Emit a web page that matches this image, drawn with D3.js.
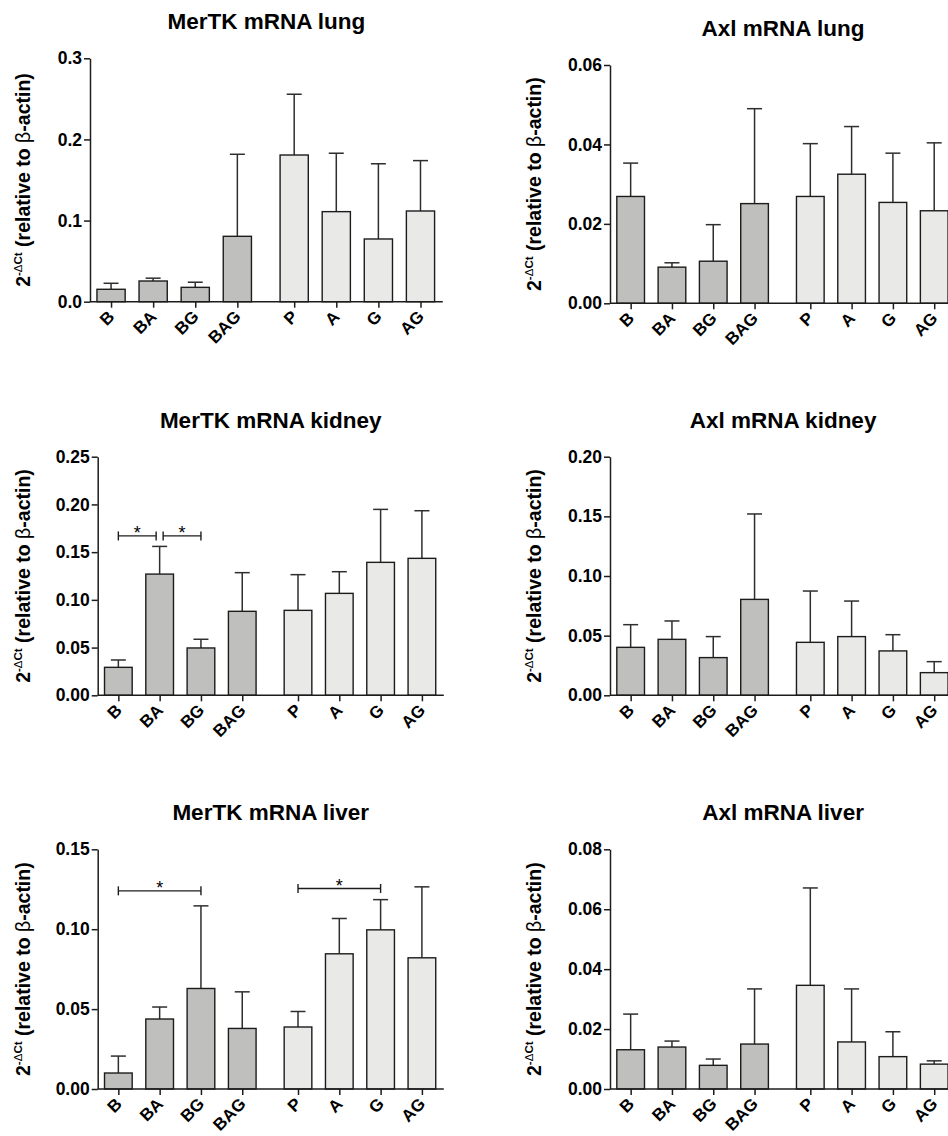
<!DOCTYPE html>
<html>
<head>
<meta charset="utf-8">
<script src="https://cdn.jsdelivr.net/npm/d3@7"></script>
<style>
  body { margin: 0; background: #fff; }
  text { font-family: "Liberation Sans", Arial, sans-serif; }
</style>
</head>
<body>
<div id="chart"></div>
<script>
// x categories (first four: B groups, last four: non-B groups)
const categories = ["B", "BA", "BG", "BAG", "P", "A", "G", "AG"];

// means and upper error bars
const mertkLungMean = [0.0153, 0.0255, 0.0177, 0.0806, 0.1808, 0.1110, 0.0773, 0.1118];
const mertkLungErr  = [0.0074, 0.0035, 0.0063, 0.1011, 0.0749, 0.0720, 0.0927, 0.0621];
const axlLungMean   = [0.0269, 0.0091, 0.0106, 0.0251, 0.0269, 0.0325, 0.0254, 0.0233];
const axlLungErr    = [0.0084, 0.0011, 0.0092, 0.0239, 0.0133, 0.0120, 0.0124, 0.0171];

const mertkKidneyMean = [0.0293, 0.1270, 0.0496, 0.0880, 0.0890, 0.1068, 0.1393, 0.1435];
const mertkKidneyErr  = [0.0077, 0.0290, 0.0091, 0.0405, 0.0374, 0.0227, 0.0555, 0.0499];
const axlKidneyMean   = [0.0402, 0.0469, 0.0316, 0.0804, 0.0444, 0.0492, 0.0372, 0.0190];
const axlKidneyErr    = [0.0190, 0.0154, 0.0176, 0.0716, 0.0430, 0.0298, 0.0136, 0.0092];

const mertkLiverMean = [0.0100, 0.0438, 0.0629, 0.0379, 0.0388, 0.0846, 0.0996, 0.0821];
const mertkLiverErr  = [0.0106, 0.0075, 0.0517, 0.0229, 0.0097, 0.0221, 0.0189, 0.0444];
const axlLiverMean   = [0.0131, 0.0140, 0.0079, 0.0150, 0.0346, 0.0157, 0.0108, 0.0083];
const axlLiverErr    = [0.0119, 0.0020, 0.0021, 0.0184, 0.0325, 0.0177, 0.0083, 0.0011];

// y tick values
const ticksMertkLung   = [0, 0.1, 0.2, 0.3];
const ticksAxlLung     = [0, 0.02, 0.04, 0.06];
const ticksMertkKidney = [0, 0.05, 0.10, 0.15, 0.20, 0.25];
const ticksAxlKidney   = [0, 0.05, 0.10, 0.15, 0.20];
const ticksMertkLiver  = [0, 0.05, 0.10, 0.15];
const ticksAxlLiver    = [0, 0.02, 0.04, 0.06, 0.08];

// significance brackets (pairs + height in data units)
const mertkKidneySigPairs = [["B", "BA"], ["BA", "BG"]];
const mertkKidneySigY     = [0.167, 0.167];
const mertkLiverSigPairs  = [["B", "BG"], ["P", "G"]];
const mertkLiverSigY      = [0.124, 0.1255];

const W = 948, H = 1136;
const svg = d3.select("#chart").append("svg")
    .attr("width", W).attr("height", H)
    .style("display", "block");

svg.append("rect").attr("width", W).attr("height", H).attr("fill", "#fff");

const panels = [
  {title: "MerTK mRNA lung", mean: mertkLungMean, err: mertkLungErr, ticks: ticksMertkLung, fmt: ".1f",
   left: 90, slot: 42.1, top: 58.3, bottom: 301.7, labelX: 23},
  {title: "Axl mRNA lung", mean: axlLungMean, err: axlLungErr, ticks: ticksAxlLung, fmt: ".2f",
   left: 610, slot: 41.3, top: 65, bottom: 303.3, labelX: 534},
  {title: "MerTK mRNA kidney", mean: mertkKidneyMean, err: mertkKidneyErr, ticks: ticksMertkKidney, fmt: ".2f",
   left: 97.7, slot: 41.3, top: 456.7, bottom: 695.3, labelX: 23,
   sig: mertkKidneySigPairs, sigY: mertkKidneySigY},
  {title: "Axl mRNA kidney", mean: axlKidneyMean, err: axlKidneyErr, ticks: ticksAxlKidney, fmt: ".2f",
   left: 610, slot: 41.3, top: 456.7, bottom: 695.3, labelX: 534},
  {title: "MerTK mRNA liver", mean: mertkLiverMean, err: mertkLiverErr, ticks: ticksMertkLiver, fmt: ".2f",
   left: 97.7, slot: 41.3, top: 849.3, bottom: 1089, labelX: 23,
   sig: mertkLiverSigPairs, sigY: mertkLiverSigY},
  {title: "Axl mRNA liver", mean: axlLiverMean, err: axlLiverErr, ticks: ticksAxlLiver, fmt: ".2f",
   left: 610, slot: 41.3, top: 849.3, bottom: 1089, labelX: 534}
];

const nSlots = 8.38, gapSlots = 0.35;
const slotPos = i => i + 0.5 + (i >= 4 ? gapSlots : 0);

panels.forEach(p => {
  const right = p.left + p.slot * nSlots;
  const slot = d3.scaleLinear().domain([0, nSlots]).range([p.left, right]);
  const x = d3.scaleOrdinal().domain(categories).range(categories.map((c, i) => slot(slotPos(i))));
  const bw = p.slot * 0.67;
  const y = d3.scaleLinear().domain([0, d3.max(p.ticks)]).range([p.bottom, p.top]);

  const g = svg.append("g");
  const data = categories.map((c, i) => ({cat: c, i: i, mean: p.mean[i], err: p.err[i]}));

  // error bars (upper only)
  const eb = g.selectAll(".eb").data(data).enter().append("g")
      .attr("stroke", "#2e2e2e").attr("stroke-width", 1.5);
  eb.append("line")
      .attr("x1", d => x(d.cat)).attr("x2", d => x(d.cat))
      .attr("y1", d => y(d.mean)).attr("y2", d => y(d.mean + d.err));
  eb.append("line")
      .attr("x1", d => x(d.cat) - 7.5).attr("x2", d => x(d.cat) + 7.5)
      .attr("y1", d => y(d.mean + d.err)).attr("y2", d => y(d.mean + d.err));

  // bars
  g.selectAll(".bar").data(data).enter().append("rect")
      .attr("x", d => x(d.cat) - bw / 2)
      .attr("width", bw)
      .attr("y", d => y(d.mean))
      .attr("height", d => y(0) - y(d.mean))
      .attr("fill", d => d.i < 4 ? "#bfbfbd" : "#e9e9e8")
      .attr("stroke", "#1c1c1c").attr("stroke-width", 1.4);

  // y axis
  const yAxis = d3.axisLeft(y).tickValues(p.ticks).tickFormat(d3.format(p.fmt))
      .tickSize(6).tickSizeOuter(0).tickPadding(2);
  const ya = g.append("g").attr("transform", `translate(${p.left},0)`).call(yAxis);
  ya.select(".domain").attr("stroke", "#1c1c1c").attr("stroke-width", 1.5);
  ya.selectAll(".tick line").attr("stroke", "#1c1c1c").attr("stroke-width", 1.5);
  ya.selectAll(".tick text").attr("font-size", 17.5).attr("font-weight", "bold")
      .attr("fill", "#000").attr("font-family", "'Liberation Sans', Arial, sans-serif");

  // x axis
  const xAxis = d3.axisBottom(x).tickSize(6).tickSizeOuter(0);
  const xa = g.append("g").attr("transform", `translate(0,${p.bottom})`).call(xAxis);
  xa.select(".domain").remove();
  xa.append("line").attr("x1", p.left).attr("x2", right)
      .attr("stroke", "#1c1c1c").attr("stroke-width", 1.5);
  xa.selectAll(".tick line").attr("stroke", "#1c1c1c").attr("stroke-width", 1.5);
  xa.selectAll(".tick text")
      .attr("font-size", 17).attr("font-weight", "bold").attr("fill", "#000")
      .attr("font-family", "'Liberation Sans', Arial, sans-serif")
      .attr("text-anchor", "end")
      .attr("y", 0).attr("dy", 0)
      .attr("transform", "translate(4,16) rotate(-45)");

  // title
  svg.append("text")
      .attr("x", (p.left + right) / 2).attr("y", p.top - 29)
      .attr("text-anchor", "middle")
      .attr("font-size", 22.5).attr("font-weight", "bold")
      .text(p.title);

  // y label
  const yl = svg.append("text")
      .attr("transform", `translate(${p.labelX + 7},${(p.top + p.bottom) / 2}) rotate(-90)`)
      .attr("text-anchor", "middle")
      .attr("font-size", 19.5).attr("font-weight", "bold");
  yl.append("tspan").text("2");
  yl.append("tspan").attr("font-size", 11.5).attr("dy", -8).text("-");
  yl.append("tspan").attr("font-size", 11.5).attr("font-weight", "normal").text("\u0394");
  yl.append("tspan").attr("font-size", 11.5).text("Ct");
  yl.append("tspan").attr("dy", 8).text(" (relative to ");
  yl.append("tspan").attr("font-weight", "normal").text("\u03b2");
  yl.append("tspan").text("-actin)");

  // significance brackets
  if (p.sig) {
    p.sig.forEach((pair, k) => {
      const shared = e => p.sig.some((o, j) => j !== k && (o[0] === e || o[1] === e));
      const x1 = x(pair[0]) + (shared(pair[0]) ? 3.5 : 0);
      const x2 = x(pair[1]) - (shared(pair[1]) ? 3.5 : 0);
      const yy = y(p.sigY[k]);
      const sg = g.append("g").attr("stroke", "#1c1c1c").attr("stroke-width", 1.4);
      sg.append("line").attr("x1", x1).attr("x2", x2).attr("y1", yy).attr("y2", yy);
      sg.append("line").attr("x1", x1).attr("x2", x1).attr("y1", yy - 4.5).attr("y2", yy + 4.5);
      sg.append("line").attr("x1", x2).attr("x2", x2).attr("y1", yy - 4.5).attr("y2", yy + 4.5);
      g.append("text").attr("x", (x1 + x2) / 2).attr("y", yy + 3.5)
          .attr("text-anchor", "middle").attr("font-size", 18).text("*");
    });
  }
});
</script>
</body>
</html>
